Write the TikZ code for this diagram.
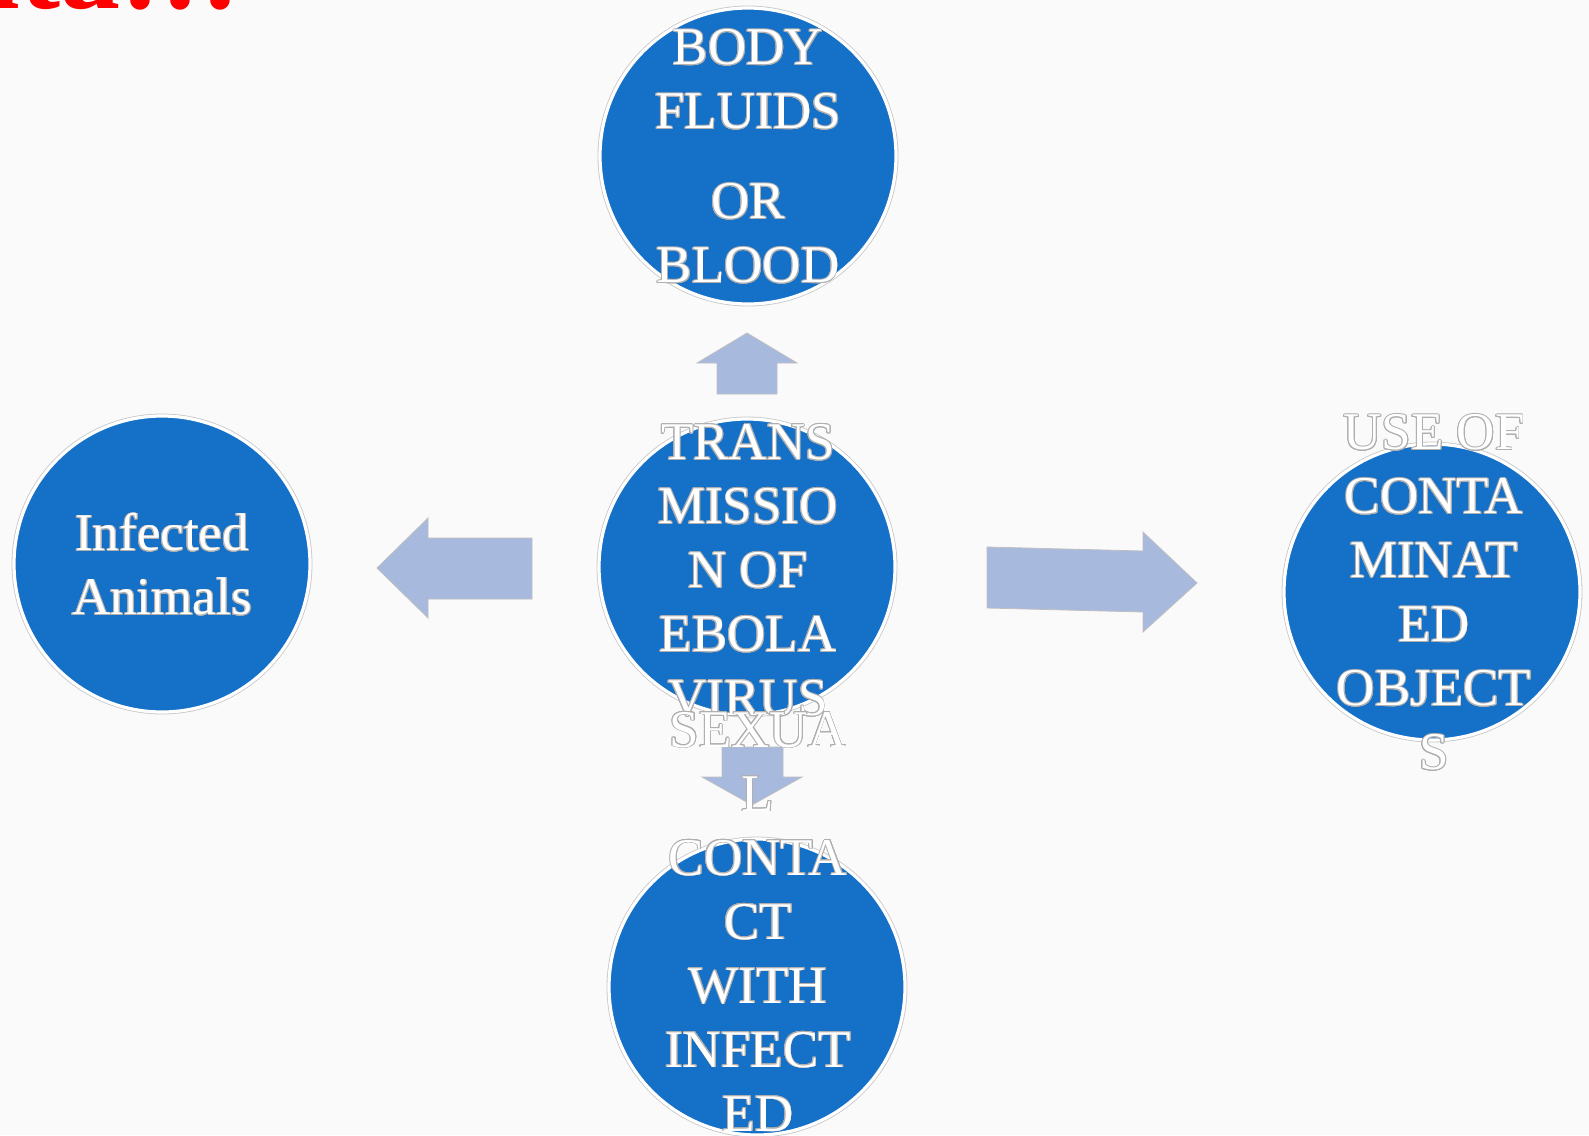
\documentclass[tikz,border=0pt]{standalone}
\usepackage{fontspec}
\setmainfont{Liberation Serif}
\usepackage[copies]{contour}
\contourlength{0.45pt}
\contournumber{16}
\definecolor{cblue}{RGB}{21,112,199}
\definecolor{arrowfill}{RGB}{168,185,222}
\definecolor{outl}{RGB}{175,175,175}
\definecolor{bgcol}{RGB}{250,250,250}
\newcommand{\olt}[1]{\contour{outl}{#1}}
\begin{document}
\begin{tikzpicture}[x=0.5pt,y=-0.5pt,
  bubble/.style={circle, fill=cblue, draw=white, line width=1.6pt, minimum size=148pt, inner sep=0pt,
    preaction={draw=outl!70, line width=2.4pt}},
  blockarrow/.style={fill=arrowfill, draw=outl!80, line width=0.4pt},
  bubbletext/.style={text=white, align=center, font=\fontsize{26.5}{32}\selectfont, inner sep=0pt}]
\useasboundingbox (0,0) rectangle (1589,1135);
\fill[bgcol] (0,0) rectangle (1589,1135);

% title fragment (cut by the top edge)
\node[anchor=base west, text=red, font=\bfseries\fontsize{60}{72}\selectfont, inner sep=0pt] (title) at (-47,9) {nta!!!};

% circles
\node[bubble] (top) at (748,156) {};
\node[bubble] (ctr) at (747,567) {};
\node[bubble] (lft) at (162,564) {};
\node[bubble] (rgt) at (1432,592) {};
\node[bubble] (bot) at (757,987) {};

% block arrows
\draw[blockarrow] (747,333) -- (797,363) -- (777,363) -- (777,394) -- (717,394) -- (717,363) -- (697,363) -- cycle;
\draw[blockarrow] (377,568) -- (428,518) -- (428,538) -- (532,538) -- (532,599) -- (428,599) -- (428,618) -- cycle;
\draw[blockarrow] (987,547) -- (1143,551) -- (1143,532) -- (1197,583) -- (1143,632) -- (1143,612) -- (987,608) -- cycle;
\draw[blockarrow] (722,747) -- (783,747) -- (783,777) -- (802,777) -- (752,805) -- (702,777) -- (722,777) -- cycle;

% texts
\node[bubbletext] (ttop) at (748,157) {\olt{BODY}\\\olt{FLUIDS}\\[13pt]\olt{OR}\\\olt{BLOOD}};
\node[bubbletext] (tctr) at (748,571) {\olt{TRANS}\\\olt{MISSIO}\\\olt{N OF}\\\olt{EBOLA}\\\olt{VIRUS}};
\node[bubbletext] (tlft) at (162,565) {\olt{Infected}\\\olt{Animals}};
\node[bubbletext] (trgt) at (1434,593) {\olt{USE OF}\\\olt{CONTA}\\\olt{MINAT}\\\olt{ED}\\\olt{OBJECT}\\\olt{S}};
\node[bubbletext] (tbot) at (758,922) {\olt{SEXUA}\\\olt{L}\\\olt{CONTA}\\\olt{CT}\\\olt{WITH}\\\olt{INFECT}\\\olt{ED}};
\end{tikzpicture}
\end{document}
